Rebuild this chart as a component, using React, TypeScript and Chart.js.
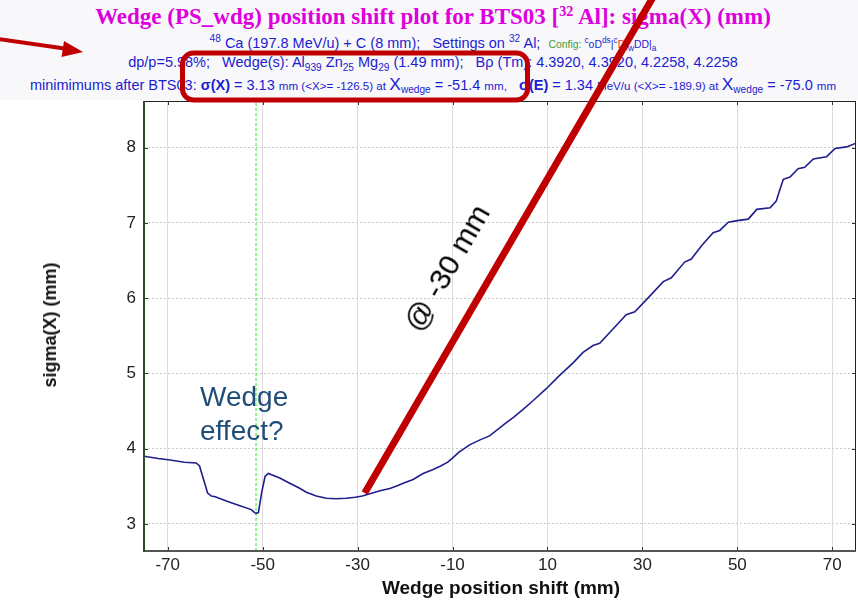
import React, { useEffect, useRef } from 'react';
import { Chart, registerables } from 'chart.js';
Chart.register(...registerables);

// Wedge position shift (mm)
const wedgeShift = [
  -75, -72, -69.5, -66.5, -64.0, -63.3, -62.5, -61.6, -60.8, -60.0, -57.5, -54.8, -52.4, -51.7, -51.4, -50.9,
  -50.2, -49.5, -48.8, -46.4, -44.3, -42.4, -40.8, -38.7, -36.6, -34.5, -32.4, -30.5, -29.0, -27.4, -25.3,
  -23.2, -21.5, -20.4, -18.3, -16.2, -14.2, -12.5, -11.0, -9.9, -8.7, -6.4, -4.1, -2.2, 1.0, 2.9, 4.8, 7.0,
  9.8, 12.5, 15.4, 17.5, 19.6, 21.0, 23.8, 26.6, 28.4, 31.0, 34.4, 36.1, 38.9, 40.3, 42.5, 44.9, 46.3, 48.1,
  50.0, 52.3, 54.1, 56.9, 58.2, 59.0, 59.7, 61.1, 62.8, 64.2, 66.0, 68.8, 70.6, 73.0, 75.0,
];
// sigma(X) (mm)
const sigmaX = [
  3.90, 3.87, 3.85, 3.82, 3.81, 3.77, 3.60, 3.41, 3.37, 3.36, 3.30, 3.24, 3.19, 3.15, 3.14, 3.15,
  3.42, 3.63, 3.67, 3.61, 3.54, 3.48, 3.42, 3.37, 3.34, 3.335, 3.34, 3.355, 3.37, 3.40, 3.44,
  3.47, 3.51, 3.54, 3.59, 3.67, 3.72, 3.77, 3.82, 3.88, 3.95, 4.05, 4.12, 4.17, 4.33, 4.42, 4.52, 4.64,
  4.80, 4.97, 5.14, 5.28, 5.37, 5.40, 5.59, 5.78, 5.82, 5.99, 6.22, 6.27, 6.48, 6.52, 6.70, 6.87, 6.90, 7.01,
  7.03, 7.05, 7.18, 7.20, 7.29, 7.45, 7.58, 7.61, 7.72, 7.74, 7.85, 7.88, 7.99, 8.01, 8.06,
];
const xTickValues = [-70, -50, -30, -10, 10, 30, 50, 70];
const yTickValues = [3, 4, 5, 6, 7, 8];
const xRange = [-75, 75];
const yRange = [2.64, 8.62];
const minWedgeX = -51.4;
const annotationPoint = { x: -28.5, y: 3.41 };

const FONT = '"Liberation Sans", Arial, sans-serif';

const overlayPlugin = {
  id: 'overlay',
  afterDraw(chart: any) {
    const { ctx, chartArea: a, scales } = chart;
    const xs = scales.x;
    const ys = scales.y;
    ctx.save();
    // inward tick marks
    ctx.strokeStyle = '#333';
    ctx.lineWidth = 1;
    xTickValues.forEach((v) => {
      const px = Math.round(xs.getPixelForValue(v)) + 0.5;
      ctx.beginPath();
      ctx.moveTo(px, a.top); ctx.lineTo(px, a.top + 4);
      ctx.moveTo(px, a.bottom); ctx.lineTo(px, a.bottom - 4);
      ctx.stroke();
    });
    yTickValues.forEach((v) => {
      const py = Math.round(ys.getPixelForValue(v)) + 0.5;
      ctx.beginPath();
      ctx.moveTo(a.left, py); ctx.lineTo(a.left + 4, py);
      ctx.moveTo(a.right, py); ctx.lineTo(a.right - 4, py);
      ctx.stroke();
    });
    // frame
    ctx.strokeStyle = '#222';
    ctx.lineWidth = 1;
    ctx.beginPath();
    ctx.moveTo(a.left, a.top + 0.5); ctx.lineTo(a.right, a.top + 0.5);
    ctx.moveTo(a.right - 0.5, a.top); ctx.lineTo(a.right - 0.5, a.bottom);
    ctx.stroke();
    ctx.strokeStyle = '#555';
    ctx.lineWidth = 2;
    ctx.beginPath();
    ctx.moveTo(a.left, a.bottom); ctx.lineTo(a.right, a.bottom);
    ctx.stroke();
    ctx.strokeStyle = '#2f4a2f';
    ctx.beginPath();
    ctx.moveTo(a.left, a.top); ctx.lineTo(a.left, a.bottom + 1);
    ctx.stroke();

    // red annotation line from the curve point upward
    const sx = xs.getPixelForValue(annotationPoint.x);
    const sy = ys.getPixelForValue(annotationPoint.y);
    const slope = 1.72;
    ctx.strokeStyle = '#c00000';
    ctx.lineWidth = 7;
    ctx.beginPath();
    ctx.moveTo(sx, sy);
    ctx.lineTo(sx + (sy + 5) / slope, -5);
    ctx.stroke();

    // rounded highlight box
    ctx.lineWidth = 5;
    ctx.beginPath();
    (ctx as any).roundRect(182.5, 53, 345, 47, 11);
    ctx.stroke();

    // arrow
    ctx.lineWidth = 4;
    ctx.beginPath();
    ctx.moveTo(-2, 39);
    ctx.lineTo(68, 49);
    ctx.stroke();
    ctx.fillStyle = '#c00000';
    ctx.beginPath();
    ctx.moveTo(83, 52);
    ctx.lineTo(64, 41);
    ctx.lineTo(61.5, 57);
    ctx.closePath();
    ctx.fill();
    ctx.restore();
  },
};

export default function App() {
  const ref = useRef<HTMLCanvasElement | null>(null);
  useEffect(() => {
    if (!ref.current) return;
    const chart = new Chart(ref.current, {
      type: 'line',
      data: {
        datasets: [
          {
            data: wedgeShift.map((x, i) => ({ x, y: sigmaX[i] })),
            borderColor: '#1f1f8c',
            borderWidth: 1.6,
            pointRadius: 0,
            tension: 0,
            fill: false,
          },
          {
            data: [
              { x: minWedgeX, y: yRange[0] },
              { x: minWedgeX, y: yRange[1] },
            ],
            borderColor: '#22ee22',
            borderWidth: 1,
            borderDash: [3, 2],
            pointRadius: 0,
            fill: false,
          },
        ],
      },
      options: {
        responsive: false,
        animation: false,
        events: [],
        layout: { padding: { top: 101, right: 2, left: 0, bottom: 0 } },
        plugins: { legend: { display: false }, tooltip: { enabled: false }, title: { display: false } },
        scales: {
          x: {
            type: 'linear',
            min: xRange[0],
            max: xRange[1],
            afterBuildTicks: (s: any) => { s.ticks = xTickValues.map((v) => ({ value: v })); },
            afterFit: (s: any) => { s.height = 54; },
            ticks: { color: '#222', font: { family: FONT, size: 17 }, padding: 4, maxRotation: 0, autoSkip: false },
            grid: { color: '#dcdcdc', lineWidth: 1, drawTicks: false },
            border: { display: false },
          },
          y: {
            type: 'linear',
            min: yRange[0],
            max: yRange[1],
            afterBuildTicks: (s: any) => { s.ticks = yTickValues.map((v) => ({ value: v })); },
            afterFit: (s: any) => { s.width = 144; },
            ticks: { color: '#222', font: { family: FONT, size: 17 }, padding: 8, autoSkip: false },
            grid: { color: '#c8c8c8', lineWidth: 1, drawTicks: false },
            border: { display: false, dash: [2, 2] },
          },
        },
      },
      plugins: [overlayPlugin],
    });
    return () => chart.destroy();
  }, []);

  const blue = '#1c1cd0';
  const sup = (t: string, size = '0.7em') => (
    <span style={{ fontSize: size, position: 'relative', top: '-0.55em' }}>{t}</span>
  );
  const sub = (t: string, size = '0.7em') => (
    <span style={{ fontSize: size, position: 'relative', top: '0.35em' }}>{t}</span>
  );
  const small = (t: string) => <span style={{ fontSize: '0.8em' }}>{t}</span>;
  const lineStyle: React.CSSProperties = {
    position: 'absolute', left: 4, width: 858, textAlign: 'center', whiteSpace: 'pre',
    font: `14.5px ${FONT}`, lineHeight: '18px', color: blue,
  };

  return (
    <div style={{ position: 'absolute', left: 0, top: 0, width: 858, height: 605, background: '#fff', overflow: 'hidden' }}>
      <div style={{ position: 'absolute', left: 0, top: 0, width: 858, height: 100, background: '#f8f8fb' }} />
      <div style={{ position: 'absolute', left: 4, width: 858, top: 4, textAlign: 'center', whiteSpace: 'pre',
        font: `bold 23px "Liberation Serif", "Times New Roman", serif`, lineHeight: '26px', color: '#dd00dd' }}>
        Wedge (PS_wdg) position shift plot for BTS03 [{sup('32', '0.62em')} Al]: sigma(X) (mm)
      </div>
      <div style={{ ...lineStyle, top: 34 }}>
        {sup('48')}{' Ca (197.8 MeV/u) + C (8 mm);   Settings on '}{sup('32')}{' Al;  '}
        <span style={{ fontSize: '0.72em', color: '#3c9a3c' }}>{'Config: '}</span>
        <span style={{ fontSize: '0.72em' }}>{sup('c', '0.8em')}oD{sup('ds', '0.8em')}|{sup('c', '0.8em')}</span>
        <span style={{ fontSize: '0.72em', color: '#ff2020' }}>D</span>
        <span style={{ fontSize: '0.72em' }}>|{sub('w', '0.8em')}DD|{sub('a', '0.8em')}</span>
      </div>
      <div style={{ ...lineStyle, top: 53 }}>
        {'dp/p=5.98%;   Wedge(s): Al'}{sub('939')}{' Zn'}{sub('25')}{' Mg'}{sub('29')}{' (1.49 mm);   Bρ (Tm): 4.3920, 4.3920, 4.2258, 4.2258'}
      </div>
      <div style={{ ...lineStyle, top: 74.5 }}>
        {'minimimums after BTS03: '}<b>σ(X)</b>{' = 3.13 '}{small('mm (<X>= -126.5) at ')}<span style={{ fontSize: '1.2em' }}>X</span>{sub('wedge')}{' = -51.4 '}{small('mm,')}{'   '}<b>σ(E)</b>{' = 1.34 '}{small('MeV/u (<X>= -189.9) at ')}<span style={{ fontSize: '1.2em' }}>X</span>{sub('wedge')}{' = -75.0 '}{small('mm')}
      </div>
      <canvas ref={ref} width={858} height={605} style={{ position: 'absolute', left: 0, top: 0, width: 858, height: 605 }} />
      <div style={{ position: 'absolute', left: 200, top: 380, font: `28px ${FONT}`, lineHeight: '34px', color: '#1f4e79' }}>
        Wedge<br />effect?
      </div>
      <div style={{ position: 'absolute', left: 447, top: 268, transform: 'translate(-50%, -50%) rotate(-60deg)',
        font: `30px ${FONT}`, color: '#000', whiteSpace: 'nowrap' }}>
        @ -30 mm
      </div>
      <div style={{ position: 'absolute', left: 501, top: 577, transform: 'translateX(-50%)', whiteSpace: 'nowrap',
        font: `bold 19px ${FONT}`, lineHeight: '22px', color: '#111' }}>
        Wedge position shift (mm)
      </div>
      <div style={{ position: 'absolute', left: 50, top: 325, transform: 'translate(-50%, -50%) rotate(-90deg)', whiteSpace: 'nowrap',
        font: `bold 18px ${FONT}`, lineHeight: '22px', color: '#111' }}>
        sigma(X) (mm)
      </div>
    </div>
  );
}
